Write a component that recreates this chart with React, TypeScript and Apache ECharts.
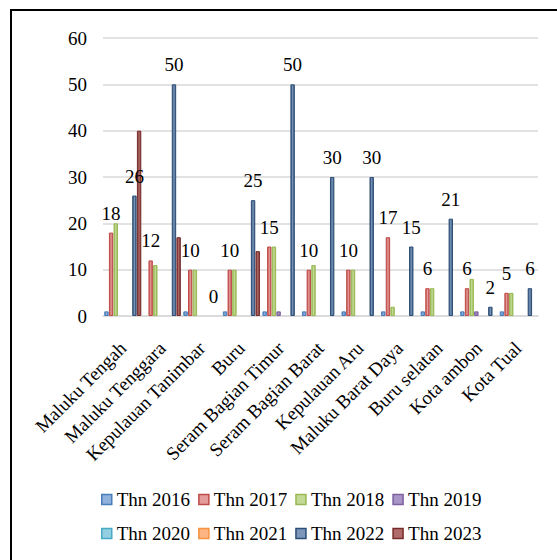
import React, { useEffect, useRef } from "react";
import * as echarts from "echarts";

const categories = [
  "Maluku Tengah",
  "Maluku Tenggara",
  "Kepulauan Tanimbar",
  "Buru",
  "Seram Bagian Timur",
  "Seram Bagian Barat",
  "Kepulauan Aru",
  "Maluku Barat Daya",
  "Buru selatan",
  "Kota ambon",
  "Kota Tual",
];

const years = ["Thn 2016", "Thn 2017", "Thn 2018", "Thn 2019", "Thn 2020", "Thn 2021", "Thn 2022", "Thn 2023"];

const v2016 = [1, null, 1, 1, 1, 1, 1, 1, 1, 1, 1];
const v2017 = [18, 12, 10, 10, 15, 10, 10, 17, 6, 6, 5];
const v2018 = [20, 11, 10, 10, 15, 11, 10, 2, 6, 8, 5];
const v2019 = [null, null, null, null, 1, null, null, null, null, 1, null];
const v2020 = [null, null, null, null, null, null, null, null, null, null, null];
const v2021 = [null, null, null, null, null, null, null, null, null, null, null];
const v2022 = [26, 50, 0, 25, 50, 30, 30, 15, 21, 2, 6];
const v2023 = [40, 17, null, 14, null, null, null, null, null, null, null];

const yTicks = { min: 0, max: 60, interval: 10 };

const seriesValues = [v2016, v2017, v2018, v2019, v2020, v2021, v2022, v2023];
const borderColors = ["#4A7EBB", "#BE4B48", "#98B954", "#7D60A0", "#46AAC5", "#F69240", "#2C4D75", "#772C2A"];
const fillColors = ["#8FB1DC", "#E49C9A", "#C3DA97", "#A995C6", "#93CFE0", "#FBB482", "#7D97BB", "#B06C6A"];
const labeled = [false, true, false, false, false, false, true, false];

const FONT = "Liberation Serif";
const FS = 19;

export default function App() {
  const ref = useRef<HTMLDivElement>(null);
  useEffect(() => {
    if (!ref.current) return;
    const chart = echarts.init(ref.current, undefined, { renderer: "svg" });
    const series = years.map((name, i) => ({
      name,
      type: "bar",
      barWidth: 4.4,
      barGap: "6%",
      itemStyle: {
        color: {
          type: "linear",
          x: 0,
          y: 0,
          x2: 1,
          y2: 0,
          colorStops: [
            { offset: 0, color: borderColors[i] },
            { offset: 0.5, color: fillColors[i] },
            { offset: 1, color: borderColors[i] },
          ],
        },
        borderColor: borderColors[i],
        borderWidth: 1,
      },
      label: labeled[i]
        ? { show: true, position: "top", distance: 10, color: "#000", fontFamily: FONT, fontSize: FS }
        : { show: false },
      data: seriesValues[i].map((v) => (v === 0 ? { value: 0, itemStyle: { borderWidth: 0 } } : v)),
    }));
    const legendItem = (i: number) => ({
      name: years[i],
      itemStyle: { color: fillColors[i], borderColor: borderColors[i], borderWidth: 1.5 },
    });
    const legendBase = {
      icon: "rect",
      itemWidth: 10,
      itemHeight: 10,
      itemGap: 8,
      padding: 0,
      left: 101,
      textStyle: { fontFamily: FONT, fontSize: FS, color: "#000" },
    };
    chart.setOption({
      animation: false,
      graphic: [
        {
          type: "rect",
          shape: { x: 11, y: 10, width: 600, height: 600 },
          style: { fill: "none", stroke: "#000", lineWidth: 2 },
        },
      ],
      grid: { left: 103, right: 19, top: 38, bottom: 244 },
      legend: [
        { ...legendBase, top: 490, data: [0, 1, 2, 3].map(legendItem) },
        { ...legendBase, top: 524, data: [4, 5, 6, 7].map(legendItem) },
      ],
      xAxis: {
        type: "category",
        data: categories,
        axisTick: { show: false },
        axisLine: { lineStyle: { color: "#D9D9D9", width: 1.5 } },
        axisLabel: {
          interval: 0,
          rotate: 45,
          margin: 29,
          color: "#000",
          fontFamily: FONT,
          fontSize: FS,
        },
      },
      yAxis: {
        type: "value",
        min: yTicks.min,
        max: yTicks.max,
        interval: yTicks.interval,
        axisLine: { show: false },
        axisTick: { show: false },
        splitLine: { lineStyle: { color: "#D9D9D9", width: 1.5 } },
        axisLabel: { margin: 16, color: "#000", fontFamily: FONT, fontSize: FS },
      },
      series,
    });
    return () => chart.dispose();
  }, []);
  return (
    <div
      ref={ref}
      style={{ position: "absolute", left: 0, top: 0, width: 557, height: 560, background: "#fff" }}
    />
  );
}
